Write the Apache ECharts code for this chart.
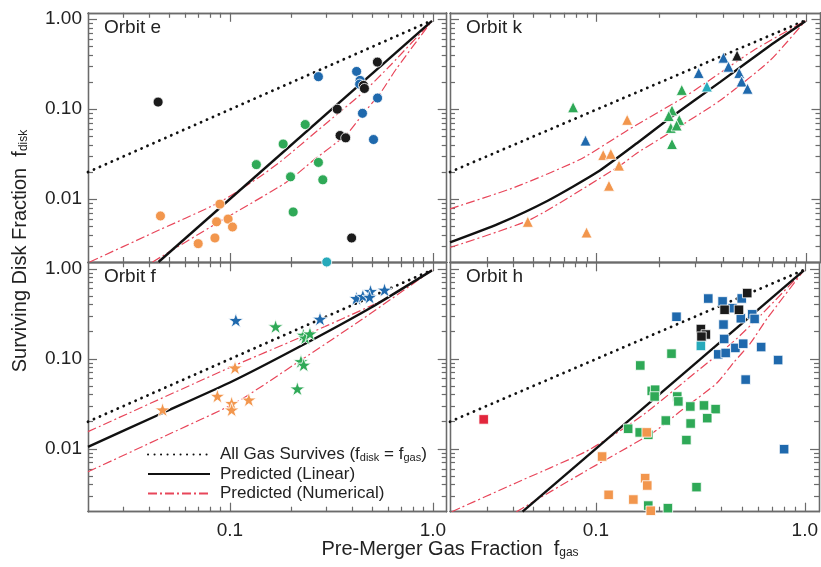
<!DOCTYPE html>
<html>
<head>
<meta charset="utf-8">
<script src="https://cdn.jsdelivr.net/npm/echarts@6/dist/echarts.min.js"></script>
<style>
  html, body { margin: 0; padding: 0; background: #fff; }
  #chart { width: 821px; height: 567px; }
</style>
</head>
<body>
<div id="chart"></div>
<script>
// axis ticks (log axes)
const xMajorTicks = [0.1, 1];
const xMinorTicks = [0.03, 0.04, 0.05, 0.06, 0.07, 0.08, 0.09, 0.2, 0.3, 0.4, 0.5, 0.6, 0.7, 0.8, 0.9];
const yMajorTicks = [0.01, 0.1, 1];
const yMinorTicks = [0.003, 0.004, 0.005, 0.006, 0.007, 0.008, 0.009,
  0.02, 0.03, 0.04, 0.05, 0.06, 0.07, 0.08, 0.09, 0.2, 0.3, 0.4, 0.5, 0.6, 0.7, 0.8, 0.9];

// model curves
const equalLine = [[0.02, 0.02], [0.99, 0.97]];
const linearE = [[0.0445, 0.002], [0.99, 0.96]];
const numHighE = [[0.0204, 0.002], [0.0416, 0.0042], [0.0886, 0.0092], [0.134, 0.0165], [0.177, 0.026],
  [0.31, 0.075], [0.455, 0.155], [0.62, 0.31], [0.99, 0.96]];
const numLowE = [[0.0416, 0.002], [0.0886, 0.0056], [0.189, 0.0153], [0.258, 0.027], [0.377, 0.053],
  [0.455, 0.09], [0.55, 0.15], [0.66, 0.28], [0.99, 0.96]];
const linearK = [[0.02, 0.0033], [0.034, 0.0053], [0.0585, 0.0096], [0.101, 0.02], [0.158, 0.043],
  [0.224, 0.08], [0.388, 0.2], [0.673, 0.51], [0.99, 0.95]];
const numHighK = [[0.02, 0.0078], [0.0406, 0.0135], [0.0844, 0.028], [0.14, 0.058], [0.269, 0.142],
  [0.56, 0.45], [0.99, 0.96]];
const numLowK = [[0.02, 0.0029], [0.0488, 0.006], [0.129, 0.0235], [0.158, 0.0332], [0.224, 0.055],
  [0.388, 0.125], [0.673, 0.349], [0.99, 0.96]];
const linearF = [[0.02, 0.0105], [0.0466, 0.025], [0.1, 0.0545], [0.22, 0.136], [0.487, 0.362], [0.99, 0.96]];
const numHighF = [[0.02, 0.0155], [0.1, 0.08], [0.22, 0.171], [0.589, 0.468], [0.99, 0.97]];
const numLowF = [[0.02, 0.00555], [0.05, 0.0145], [0.108, 0.033], [0.226, 0.098], [0.45, 0.276], [0.99, 0.96]];

// Orbit e (circles)
const eBlack = [[0.0443, 0.12], [0.533, 0.334], [0.338, 0.10], [0.455, 0.184], [0.46, 0.17],
  [0.349, 0.051], [0.372, 0.048], [0.398, 0.0037]];
const eBlue = [[0.273, 0.23], [0.421, 0.263], [0.438, 0.209], [0.436, 0.19], [0.534, 0.133], [0.45, 0.09], [0.51, 0.046]];
const eGreen = [[0.235, 0.0675], [0.183, 0.041], [0.135, 0.0242], [0.273, 0.0256], [0.199, 0.0177],
  [0.287, 0.0164], [0.205, 0.0072]];
const eOrange = [[0.0455, 0.0065], [0.0893, 0.0088], [0.086, 0.0056], [0.098, 0.006], [0.103, 0.0049],
  [0.0844, 0.0037], [0.0698, 0.0032]];
const eCyan = [[0.3, 0.002]];

// Orbit k (triangles)
const kGreen = [[0.0773, 0.105], [0.255, 0.164], [0.229, 0.097], [0.221, 0.084], [0.248, 0.076],
  [0.226, 0.062], [0.241, 0.066], [0.229, 0.041]];
const kBlue = [[0.0886, 0.0448], [0.307, 0.253], [0.403, 0.374], [0.426, 0.297], [0.479, 0.253],
  [0.492, 0.203], [0.525, 0.169]];
const kOrange = [[0.14, 0.0762], [0.1076, 0.031], [0.117, 0.0319], [0.128, 0.0236], [0.1146, 0.0141],
  [0.047, 0.0056], [0.0896, 0.00426]];
const kBlack = [[0.468, 0.395]];
const kCyan = [[0.336, 0.179]];

// Orbit f (stars)
const fBlue = [[0.107, 0.268], [0.278, 0.277], [0.42, 0.47], [0.452, 0.497], [0.493, 0.562], [0.488, 0.485], [0.578, 0.583]];
const fGreen = [[0.168, 0.228], [0.23, 0.184], [0.235, 0.171], [0.248, 0.19], [0.224, 0.0935], [0.231, 0.0855], [0.215, 0.0465]];
const fOrange = [[0.106, 0.0795], [0.0466, 0.0272], [0.0868, 0.0385], [0.102, 0.0321], [0.102, 0.0271], [0.124, 0.035]];

// Orbit h (squares)
const hBlue = [[0.345, 0.467], [0.404, 0.434], [0.499, 0.468], [0.243, 0.293], [0.45, 0.365], [0.494, 0.282],
  [0.56, 0.312], [0.575, 0.277], [0.408, 0.24], [0.411, 0.166], [0.385, 0.112], [0.418, 0.116], [0.465, 0.132],
  [0.507, 0.147], [0.618, 0.135], [0.745, 0.0968], [0.521, 0.0587], [0.796, 0.0099]];
const hBlack = [[0.53, 0.537], [0.413, 0.35], [0.484, 0.35], [0.318, 0.214], [0.336, 0.186], [0.32, 0.176]];
const hCyan = [[0.318, 0.139]];
const hRed = [[0.029, 0.0212]];
const hGreen = [[0.23, 0.114], [0.163, 0.0843], [0.185, 0.044], [0.192, 0.0453], [0.191, 0.0381], [0.245, 0.0381],
  [0.248, 0.0336], [0.283, 0.0295], [0.329, 0.0303], [0.374, 0.0276], [0.341, 0.0219], [0.284, 0.0191],
  [0.216, 0.0206], [0.1426, 0.0167], [0.162, 0.0152], [0.178, 0.0143], [0.271, 0.0125], [0.303, 0.00375],
  [0.178, 0.00234], [0.221, 0.00219]];
const hOrange = [[0.175, 0.0152], [0.107, 0.0082], [0.172, 0.00472], [0.176, 0.00391], [0.115, 0.00308],
  [0.151, 0.00273], [0.183, 0.00205]];

const FONT = '"Liberation Sans", Arial, Helvetica, sans-serif';
const TEXT = '#222';
const AXIS = '#6b6b6b';
const C = { black: '#1b1b1b', blue: '#1f69ad', green: '#2fa957', orange: '#f2964d', cyan: '#27aabb', red: '#e2263c' };
const STAR = 'path://M50,0 L61.8,35.1 L98.9,35.1 L68.9,57.3 L80.2,92.7 L50,70.8 L19.8,92.7 L31.1,57.3 L1.1,35.1 L38.2,35.1 Z';

const panels = [
  { title: 'Orbit e', symbol: 'circle', size: 10, linear: linearE, high: numHighE, low: numLowE,
    groups: [[eGreen, C.green], [eOrange, C.orange], [eBlue, C.blue], [eBlack, C.black], [eCyan, C.cyan]] },
  { title: 'Orbit k', symbol: 'triangle', size: 11, linear: linearK, high: numHighK, low: numLowK,
    groups: [[kGreen, C.green], [kOrange, C.orange], [kBlue, C.blue], [kBlack, C.black], [kCyan, C.cyan]] },
  { title: 'Orbit f', symbol: STAR, size: 15, linear: linearF, high: numHighF, low: numLowF,
    groups: [[fGreen, C.green], [fOrange, C.orange], [fBlue, C.blue]] },
  { title: 'Orbit h', symbol: 'rect', size: 9.5, linear: linearE, high: numHighE, low: numLowE,
    groups: [[hGreen, C.green], [hOrange, C.orange], [hBlue, C.blue], [hBlack, C.black], [hCyan, C.cyan], [hRed, C.red]] }
];

const grids = [
  { left: 88, top: 12.8, width: 358.7, height: 249.2 },
  { left: 450, top: 12.8, width: 370.5, height: 249.2 },
  { left: 88, top: 262.3, width: 358.7, height: 249.4 },
  { left: 450, top: 262.3, width: 370.5, height: 249.4 }
];

function makeAxis (dim, g, position, ticks, len, labels) {
  const isX = dim === 'x';
  return {
    type: 'log', logBase: 10, gridIndex: g, position: position,
    min: isX ? 0.02 : 0.002, max: isX ? 1.17 : 1.18,
    axisLine: { show: true, lineStyle: { color: AXIS, width: 1.3 } },
    axisTick: { show: true, inside: true, length: len, customValues: ticks, lineStyle: { color: AXIS, width: 1.2 } },
    axisLabel: labels ? {
      show: true, customValues: labels, color: TEXT, fontSize: 19, fontFamily: FONT,
      margin: isX ? 10 : 6, padding: isX ? 0 : [4, 0, 0, 0],
      formatter: v => isX ? Number(v).toFixed(1) : Number(v).toFixed(2)
    } : { show: false },
    splitLine: { show: false }
  };
}

const xAxes = [];
const yAxes = [];
grids.forEach((gr, g) => {
  const bottomRow = g >= 2;
  const leftCol = g % 2 === 0;
  xAxes.push(makeAxis('x', g, 'bottom', xMajorTicks, 9, bottomRow ? xMajorTicks : null));
  xAxes.push(makeAxis('x', g, 'bottom', xMinorTicks, 5, null));
  xAxes.push(makeAxis('x', g, 'top', xMajorTicks, 9, null));
  xAxes.push(makeAxis('x', g, 'top', xMinorTicks, 5, null));
  yAxes.push(makeAxis('y', g, 'left', yMajorTicks, 9, leftCol ? yMajorTicks : null));
  yAxes.push(makeAxis('y', g, 'left', yMinorTicks, 5, null));
  yAxes.push(makeAxis('y', g, 'right', yMajorTicks, 9, null));
  yAxes.push(makeAxis('y', g, 'right', yMinorTicks, 5, null));
});

const dotStyle = { color: '#111', width: 2.8, type: [0.1, 6.4], cap: 'round' };
const solidStyle = { color: '#111', width: 2.4 };
const redStyle = { color: '#e8465a', width: 1.2, type: [9, 3, 2, 3] };

const series = [];
panels.forEach((p, g) => {
  const ax = { xAxisIndex: g * 4, yAxisIndex: g * 4 };
  const line = (name, data, style, smooth) => Object.assign({
    type: 'line', name: name, data: data, symbol: 'none', smooth: smooth,
    lineStyle: style, itemStyle: { color: style.color, opacity: 0 }, z: 2, silent: true
  }, ax);
  series.push(line('All Gas Survives', equalLine, dotStyle, false));
  series.push(line('Predicted (Numerical)', p.high, redStyle, 0.2));
  series.push(line('Predicted (Numerical)', p.low, redStyle, 0.2));
  series.push(line('Predicted (Linear)', p.linear, solidStyle, 0.2));
  p.groups.forEach(([data, color]) => {
    series.push(Object.assign({
      type: 'scatter', data: data, symbol: p.symbol, symbolSize: p.size, symbolKeepAspect: true,
      itemStyle: { color: color, borderColor: '#fff', borderWidth: 0.8, opacity: 1 }, z: 3, clip: false
    }, ax));
  });
});

const legendText = {
  'All Gas Survives': 'All Gas Survives (f{sub|disk} = f{sub|gas})',
  'Predicted (Linear)': 'Predicted (Linear)',
  'Predicted (Numerical)': 'Predicted (Numerical)'
};

const subStyle = { fontSize: 12, fontFamily: FONT, color: TEXT, padding: [8, 0, 0, 0] };
const orbitLabels = panels.map((p, g) => ({
  type: 'text', x: grids[g].left + 16, y: grids[g].top + 14.5,
  style: { text: p.title, font: '19px ' + FONT, fill: TEXT, verticalAlign: 'middle' }
}));

const chart = echarts.init(document.getElementById('chart'));
chart.setOption({
  animation: false,
  backgroundColor: '#fff',
  grid: grids,
  xAxis: xAxes,
  yAxis: yAxes,
  legend: {
    data: ['All Gas Survives', 'Predicted (Linear)', 'Predicted (Numerical)'],
    orient: 'vertical', left: 142, top: 440, itemWidth: 62, itemHeight: 14, itemGap: 0.5,
    selectedMode: false,
    itemStyle: { opacity: 0 },
    formatter: name => legendText[name],
    textStyle: { fontSize: 17, fontFamily: FONT, color: TEXT, lineHeight: 19, padding: [0, 0, 0, 5],
      rich: { sub: Object.assign({}, subStyle, { fontSize: 11, padding: [7, 0, 0, 0] }) } }
  },
  graphic: orbitLabels.concat([
    {
      type: 'text', x: 20, y: 251, rotation: Math.PI / 2,
      style: { text: 'Surviving Disk Fraction  f{sub|disk}', font: '20px ' + FONT, fill: TEXT,
        align: 'center', verticalAlign: 'middle', rich: { sub: subStyle } }
    },
    {
      type: 'text', x: 450, y: 549,
      style: { text: 'Pre-Merger Gas Fraction  f{sub|gas}', font: '20px ' + FONT, fill: TEXT,
        align: 'center', verticalAlign: 'middle', rich: { sub: subStyle } }
    }
  ]),
  series: series
});
</script>
</body>
</html>
